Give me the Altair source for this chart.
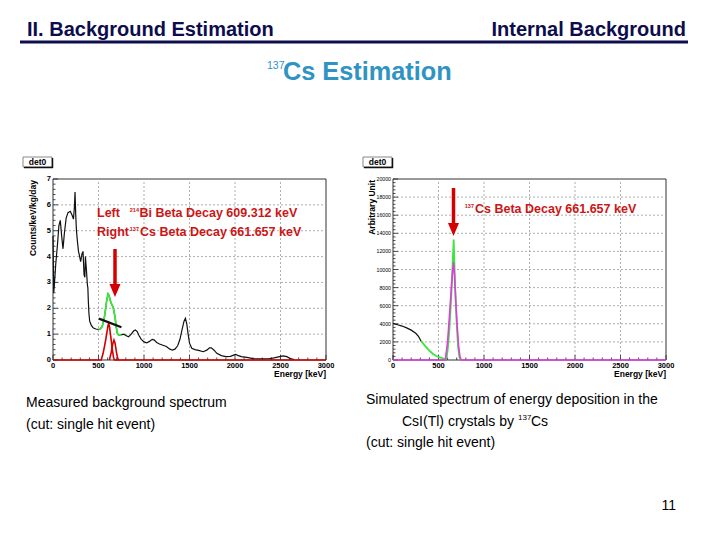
import altair as alt
import pandas as pd

# ---------------- data ----------------
# Left panel: measured background spectrum (Counts/keV/kg/day)
meas_energy = [0, 8, 15, 30, 50, 65, 80, 95, 110, 125, 145, 165, 190, 210, 225, 235, 242,
               250, 258, 268, 280, 293, 304, 318, 330, 341, 350, 356, 367, 378, 383, 388,
               395, 403, 420, 440, 470, 500, 520, 540, 560, 575, 590, 605, 615, 630, 645,
               660, 672, 684, 696, 708, 720, 740, 752, 760, 780, 800, 830, 860, 885, 905,
               925, 945, 970, 1000, 1030, 1060, 1090, 1110, 1140, 1170, 1200, 1246, 1280,
               1310, 1340, 1370, 1395, 1420, 1440, 1455, 1470, 1485, 1500, 1525, 1560, 1600,
               1650, 1690, 1720, 1740, 1770, 1800, 1850, 1900, 1950, 1985, 2005, 2030, 2070,
               2130, 2200, 2300, 2380, 2430, 2490, 2530, 2570, 2610, 2650]
meas_counts = [4.8, 2.6, 2.9, 3.7, 4.5, 5.2, 5.4, 4.8, 4.3, 4.9, 5.5, 5.7, 5.75, 5.6, 5.45,
               5.9, 6.5, 5.6, 5.0, 4.6, 4.2, 4.0, 3.8, 4.1, 4.2, 3.3, 3.2, 4.0, 3.5, 2.9, 2.8,
               2.3, 1.8, 1.5, 1.35, 1.25, 1.2, 1.18, 1.2, 1.3, 1.55, 1.9, 2.3, 2.55, 2.5, 2.3,
               2.15, 2.05, 1.85, 1.6, 1.25, 1.02, 0.97, 0.96, 0.98, 0.98, 1.0, 0.95, 0.9, 1.0,
               1.12, 1.16, 1.1, 0.95, 0.8, 0.7, 0.66, 0.72, 0.8, 0.78, 0.68, 0.62, 0.58, 0.52,
               0.43, 0.38, 0.42, 0.55, 0.8, 1.2, 1.5, 1.61, 1.4, 1.0, 0.65, 0.45, 0.4, 0.37,
               0.32, 0.38, 0.47, 0.47, 0.38, 0.26, 0.17, 0.13, 0.14, 0.19, 0.22, 0.18, 0.13,
               0.1, 0.05, 0.04, 0.05, 0.08, 0.13, 0.16, 0.13, 0.05, 0.02]
window_lo, window_hi = 500, 752          # green highlighted window

bi_energy = [0, 530, 550, 570, 590, 605, 612, 620, 635, 650, 665, 675, 3000]
bi_counts = [0, 0, 0.25, 0.6, 1.0, 1.35, 1.42, 1.3, 0.9, 0.45, 0.1, 0, 0]
cs_energy = [620, 640, 655, 670, 682, 695, 708, 720]
cs_counts = [0, 0.3, 0.6, 0.77, 0.65, 0.35, 0.1, 0]
fit_energy = [505, 752]
fit_counts = [1.6, 1.27]

# Right panel: simulated spectrum (arbitrary unit)
sim_black_energy = [0, 50, 100, 150, 200, 250, 280, 311]
sim_black_value = [4050, 3900, 3750, 3550, 3300, 2950, 2600, 2050]
sim_green_energy = [311, 330, 366, 403, 440, 476, 513, 549, 579, 590, 605, 620, 640, 655,
                    667, 672, 685, 700, 715, 730, 745]
sim_green_value = [2050, 1840, 1400, 995, 663, 442, 295, 184, 74, 300, 1500, 3500, 7000,
                   10500, 13300, 11500, 7500, 4000, 1500, 300, 0]
sim_mag_energy = [0, 575, 600, 620, 640, 655, 665, 675, 690, 705, 720, 735, 750, 3000]
sim_mag_value = [0, 0, 2000, 4800, 7800, 9800, 10800, 9500, 6500, 3800, 1600, 400, 0, 0]

# axis ticks / labels
x_labels = [0, 500, 1000, 1500, 2000, 2500, 3000]
x_grid = [500, 1000, 1500, 2000, 2500]
x_minor = [e for e in range(100, 3000, 100) if e % 500 != 0]
left_y_labels = [0, 1, 2, 3, 4, 5, 6, 7]
left_y_grid = [1, 2, 3, 4, 5, 6]
left_y_minor = [v / 5 for v in range(0, 35) if v % 5 != 0]
right_y_labels = [0, 2000, 4000, 6000, 8000, 10000, 12000, 14000, 16000, 18000, 20000]
right_y_grid = [2000, 4000, 6000, 8000, 10000, 12000, 14000, 16000, 18000]
right_y_minor = [v for v in range(400, 20000, 400) if v % 2000 != 0]

# ---------------- layout helpers ----------------
W, H = 704, 524
M = 8
FONT = "Liberation Sans"
NAVY = "#0d0d4d"
TEAL = "#2f93c4"
RED_TXT = "#cc1515"
RED = "#d40000"
GREEN = "#3ce63c"
MAGENTA = "#e03ce0"


def px(v):
    return v - M


one = pd.DataFrame({"k": [0]})


def T(s, x, y, size, color="#000000", weight="normal", align="left",
      baseline="alphabetic", angle=0):
    return alt.Chart(one).mark_text(
        font=FONT, fontSize=size, fontWeight=weight, color=color,
        align=align, baseline=baseline, angle=angle
    ).encode(text=alt.value(s), x=alt.value(px(x)), y=alt.value(px(y)))


def panel(x0, x1, ymax, ylabels, ygrid, yminor, ylab_size, ylab_weight, series):
    xs = alt.Scale(domain=[0, 3000], range=[px(x0), px(x1)], nice=False, zero=False)
    ys = alt.Scale(domain=[0, ymax], range=[px(360), px(179)], nice=False, zero=False)
    X = lambda f: alt.X(f, scale=xs, axis=None)
    Y = lambda f: alt.Y(f, scale=ys, axis=None)
    layers = []
    frame_df = pd.DataFrame({"a": [0], "b": [3000], "c": [0], "d": [ymax]})
    layers.append(
        alt.Chart(frame_df).mark_rect(fill="white", stroke="#333333", strokeWidth=1).encode(
            x=X("a:Q"), x2="b:Q", y=Y("c:Q"), y2="d:Q"))
    # grid
    gx = pd.DataFrame({"e": x_grid, "a": 0, "b": ymax})
    layers.append(alt.Chart(gx).mark_rule(color="#9a9a9a", strokeDash=[2, 2], strokeWidth=0.8).encode(
        x=X("e:Q"), y=Y("a:Q"), y2="b:Q"))
    gy = pd.DataFrame({"v": ygrid, "a": 0, "b": 3000})
    layers.append(alt.Chart(gy).mark_rule(color="#9a9a9a", strokeDash=[2, 2], strokeWidth=0.8).encode(
        y=Y("v:Q"), x=X("a:Q"), x2="b:Q"))
    # inward ticks
    for vals, ln in ((x_labels, 5), (x_minor, 2.5)):
        d = pd.DataFrame({"e": vals, "z": 0})
        layers.append(alt.Chart(d).mark_rule(color="#222", strokeWidth=0.8, y2Offset=-ln).encode(
            x=X("e:Q"), y=Y("z:Q"), y2="z:Q"))
    for vals, ln in ((ylabels, 5), (yminor, 2.5)):
        d = pd.DataFrame({"v": vals, "z": 0})
        layers.append(alt.Chart(d).mark_rule(color="#222", strokeWidth=0.8, x2Offset=ln).encode(
            y=Y("v:Q"), x=X("z:Q"), x2="z:Q"))
    # tick labels
    d = pd.DataFrame({"e": x_labels, "z": 0, "t": [str(v) for v in x_labels]})
    layers.append(alt.Chart(d).mark_text(font=FONT, fontSize=7.5, fontWeight="bold", color="#000",
                                         baseline="top", dy=2).encode(
        x=X("e:Q"), y=Y("z:Q"), text="t:N"))
    d = pd.DataFrame({"v": ylabels, "z": 0, "t": [str(v) for v in ylabels]})
    layers.append(alt.Chart(d).mark_text(font=FONT, fontSize=ylab_size, fontWeight=ylab_weight,
                                         color="#000", align="right", baseline="middle",
                                         dx=-2).encode(
        y=Y("v:Q"), x=X("z:Q"), text="t:N"))
    # data series
    for e, v, color, w in series:
        d = pd.DataFrame({"e": e, "v": v})
        layers.append(alt.Chart(d).mark_line(color=color, strokeWidth=w).encode(
            x=X("e:Q"), y=Y("v:Q")))
    return alt.layer(*layers)


green_e = [e for e in meas_energy if window_lo <= e <= window_hi]
green_v = [v for e, v in zip(meas_energy, meas_counts) if window_lo <= e <= window_hi]

left = panel(53, 326, 7, left_y_labels, left_y_grid, left_y_minor, 7.5, "bold", [
    (meas_energy, meas_counts, "#111111", 1.2),
    (green_e, green_v, GREEN, 1.8),
    (bi_energy, bi_counts, RED, 1.6),
    (cs_energy, cs_counts, RED, 1.6),
    (fit_energy, fit_counts, "#111111", 2.2),
])

right = panel(393, 666, 20000, right_y_labels, right_y_grid, right_y_minor, 5.2, "normal", [
    (sim_black_energy, sim_black_value, "#111111", 1.2),
    (sim_green_energy, sim_green_value, GREEN, 1.8),
    (sim_mag_energy, sim_mag_value, MAGENTA, 1.6),
])

# ---------------- decorations / text ----------------
deco = []
deco.append(alt.Chart(one).mark_rule(color=NAVY, strokeWidth=3).encode(
    x=alt.value(px(20)), x2=alt.value(px(688)), y=alt.value(px(42))))


def det_box(x0, y0):
    out = []
    out.append(alt.Chart(one).mark_rect(fill="white", stroke="#888", strokeWidth=1).encode(
        x=alt.value(px(x0)), x2=alt.value(px(x0 + 29)), y=alt.value(px(y0)), y2=alt.value(px(y0 + 10))))
    out.append(alt.Chart(one).mark_rule(color="#111", strokeWidth=1.5).encode(
        x=alt.value(px(x0 + 1)), x2=alt.value(px(x0 + 30)), y=alt.value(px(y0 + 10.5))))
    out.append(alt.Chart(one).mark_rule(color="#111", strokeWidth=1.5).encode(
        x=alt.value(px(x0 + 29.5)), y=alt.value(px(y0 + 1)), y2=alt.value(px(y0 + 11))))
    out.append(T("det0", x0 + 14.5, y0 + 8, 8.5, weight="bold", align="center"))
    return out


def arrow(x, y_top, y_tip):
    return [
        alt.Chart(one).mark_rule(color=RED, strokeWidth=3.5).encode(
            x=alt.value(px(x)), y=alt.value(px(y_top)), y2=alt.value(px(y_tip - 11))),
        alt.Chart(one).mark_point(shape="M-0.85,-1L0.85,-1L0,1Z", size=169, filled=True,
                                  color=RED, opacity=1, strokeWidth=0).encode(
            x=alt.value(px(x)), y=alt.value(px(y_tip - 6.5))),
    ]


texts = [
    T("II. Background Estimation", 27, 36, 20, NAVY, "bold"),
    T("Internal Background", 686, 36, 20, NAVY, "bold", align="right"),
    T("137", 267, 69, 10.5, TEAL),
    T("Cs Estimation", 283, 80, 25.3, TEAL, "bold"),
    # left panel annotations
    T("Counts/keV/kg/day", 36, 180, 8.5, weight="bold", align="right", angle=270),
    T("Energy [keV]", 326, 377, 8.5, weight="bold", align="right"),
    T("Left", 97, 217, 12.5, RED_TXT, "bold"),
    T("214", 139, 212, 5.5, RED_TXT, "bold", align="right"),
    T("Bi Beta Decay 609.312 keV", 139.5, 217, 12.5, RED_TXT, "bold"),
    T("Right", 97, 236, 12.5, RED_TXT, "bold"),
    T("137", 139, 231, 5.5, RED_TXT, "bold", align="right"),
    T("Cs Beta Decay 661.657 keV", 140, 236, 12.5, RED_TXT, "bold"),
    # right panel annotations
    T("Arbitrary Unit", 375, 180, 8.5, weight="bold", align="right", angle=270),
    T("Energy [keV]", 666, 377, 8.5, weight="bold", align="right"),
    T("137", 474, 208, 5.5, RED_TXT, "bold", align="right"),
    T("Cs Beta Decay 661.657 keV", 475, 213, 12.5, RED_TXT, "bold"),
    # captions
    T("Measured background spectrum", 26, 407, 14),
    T("(cut: single hit event)", 26, 429, 14),
    T("Simulated spectrum of energy deposition in the", 366, 404, 14),
    T("CsI(Tl) crystals by", 402, 426, 14),
    T("137", 518, 420, 8),
    T("Cs", 531, 426, 14),
    T("(cut: single hit event)", 366, 447, 14),
    T("11", 676, 510, 14, align="right"),
]

layers = deco + det_box(23, 157) + det_box(363, 157) + [left, right] + \
    arrow(115, 249, 297) + arrow(453.5, 188, 236) + texts

chart = alt.layer(*layers).resolve_scale(x="independent", y="independent").properties(
    width=W, height=H, padding=0, background="white",
    autosize=alt.AutoSizeParams(type="none"),
).configure_view(stroke=None)

chart.save("out.html", embed_options={"renderer": "svg", "actions": False})
